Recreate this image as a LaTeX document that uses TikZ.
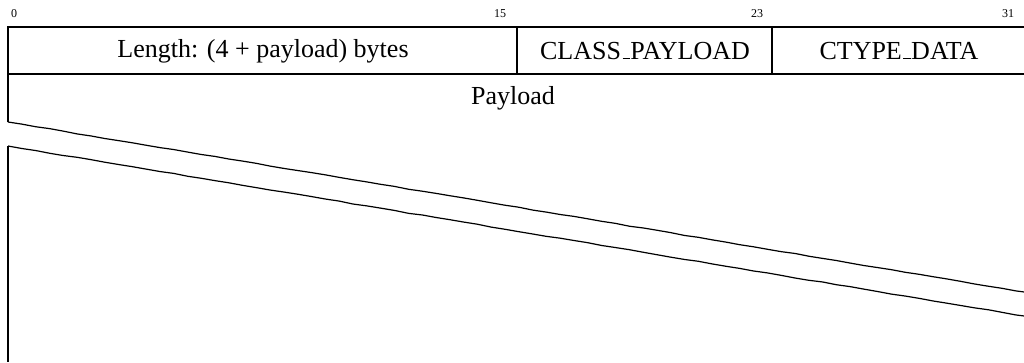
\documentclass[tikz,border=0pt]{standalone}
\usepackage{fontspec}
\setmainfont{Liberation Serif}
\usetikzlibrary{positioning,decorations.pathmorphing}
\newcommand{\ubar}{\kern.06em\vbox{\hrule width.3em height.05em}}

\begin{document}
\begin{tikzpicture}[x=1pt,y=-1pt,
  field/.style={font=\fontsize{26}{30}\selectfont,inner sep=0pt},
  bitno/.style={font=\fontsize{12}{14}\selectfont,inner sep=0pt},
  frame/.style={line width=2pt},
  cut/.style={line width=1.2pt,decorate,decoration={random steps,segment length=14pt,amplitude=0.35pt}}]
\useasboundingbox (0,0) rectangle (1024,362);
\clip (0,0) rectangle (1024,362);
% corners of the header rows
\coordinate (tl) at (8,27);
\coordinate (ml) at (8,74);
\coordinate (tr) at (1024,27);
\coordinate (mr) at (1024,74);
\coordinate (s1) at (517,27);
\coordinate (s1b) at (517,74);
\coordinate (s2) at (772,27);
\coordinate (s2b) at (772,74);
% torn edges
\coordinate (cutal) at (8,122);
\coordinate (cutar) at (1024,292);
\coordinate (cutbl) at (8,146);
\coordinate (cutbr) at (1024,316);
\coordinate (bl) at (8,362);
\draw [frame] (cutal) -- (tl) -- (tr);
\draw [frame] (ml) -- (mr);
\draw [frame] (s1) -- (s1b);
\draw [frame] (s2) -- (s2b);
\draw [frame] (cutbl) -- (bl);
\draw [cut] (cutal) -- (cutar);
\draw [cut] (cutbl) -- (cutbr);
% bit numbers
\node [bitno] (b0) at (14,14) {0};
\node [bitno] (b15) at (500,14) {15};
\node [bitno] (b23) at (757,14) {23};
\node [bitno] (b31) at (1008,14) {31};
% fields
\node [field] (len) at (263,51) {Length: (4 + payload) bytes};
\node [field] (cls) at (645,51) {CLASS\ubar PAYLOAD};
\node [field] (ctype) at (899,51) {CTYPE\ubar DATA};
\node [field] (payload) at (513,98) {Payload};
\end{tikzpicture}
\end{document}
